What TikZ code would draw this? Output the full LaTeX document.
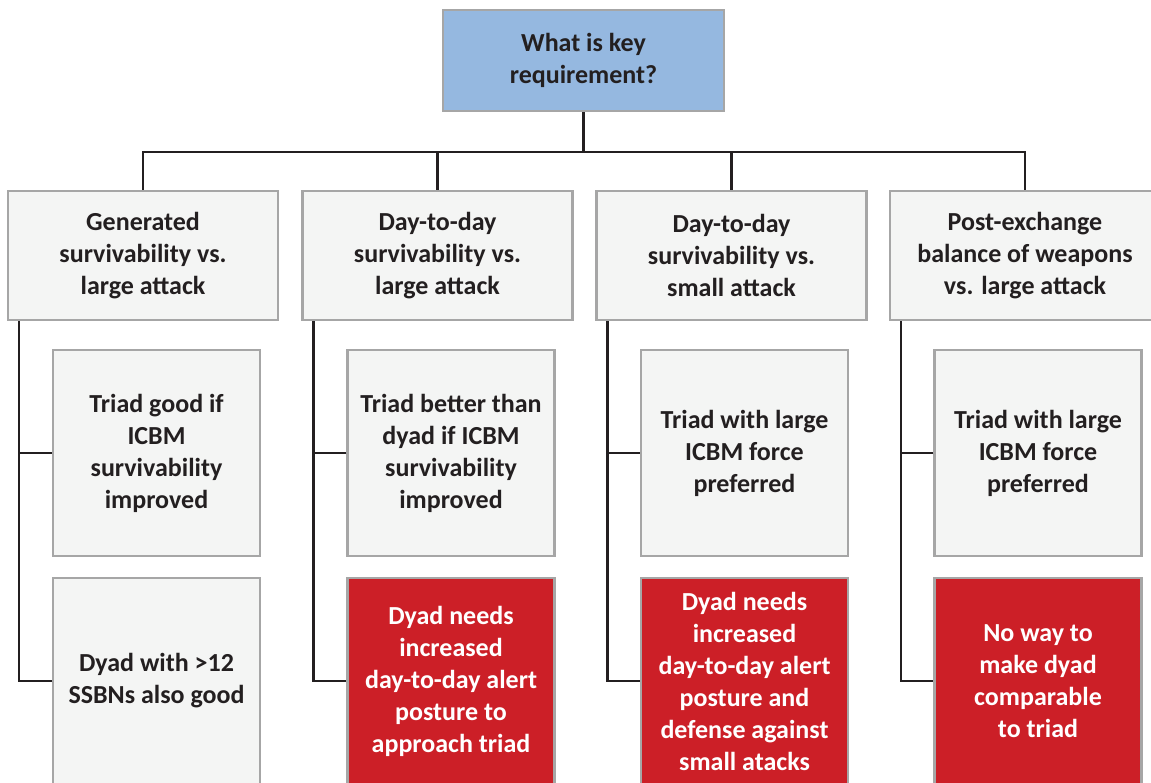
\documentclass[tikz,border=0pt]{standalone}
\usepackage{fontspec}
\setmainfont{Carlito}

\definecolor{keyblue}{HTML}{95B8E0}
\definecolor{boxgray}{HTML}{F4F5F4}
\definecolor{boxline}{HTML}{A6A6A6}
\definecolor{badred}{HTML}{CC1F27}
\definecolor{linkline}{HTML}{231F20}

\begin{document}
\begin{tikzpicture}[x=1pt, y=-1pt, line width=2.5pt,
	box/.style={draw=boxline, line width=2.5pt, fill=boxgray, align=center,
		text=linkline, inner sep=0pt,
		font=\fontsize{26}{32}\selectfont\bfseries},
	keybox/.style={box, fill=keyblue, minimum width=281pt, minimum height=101pt},
	needbox/.style={box, minimum width=270pt, minimum height=129pt},
	optbox/.style={box, minimum width=207pt, minimum height=206pt},
	badbox/.style={optbox, fill=badred, text=white},
	link/.style={draw=linkline, line width=2.5pt}]

\useasboundingbox (0,0) rectangle (1151,782);
\clip (0,0) rectangle (1151,782);

\node[keybox] (key) at (583.5,60.5) {What is key\\requirement?};

\node[needbox] (gen)  at (143,255.5)  {Generated\\survivability vs.\\large attack};
\node[needbox] (dtdl) at (437.5,255.5) {Day-to-day\\survivability vs.\\large attack};
\node[needbox] (dtds) at (731.5,255.5) {Day-to-day\\survivability vs.\\small attack};
\node[needbox] (post) at (1025,255.5)  {Post-exchange\\balance of weapons\\vs. large attack};

\node[optbox] (genA)  at (156.5,453) {Triad good if\\ICBM\\survivability\\improved};
\node[optbox] (dtdlA) at (451,453)   {Triad better than\\dyad if ICBM\\survivability\\improved};
\node[optbox] (dtdsA) at (744.5,453) {Triad with large\\ICBM force\\preferred};
\node[optbox] (postA) at (1038,453)  {Triad with large\\ICBM force\\preferred};

\node[optbox] (genB)  at (156.5,681) {Dyad with >12\\SSBNs also good};
\node[badbox] (dtdlB) at (451,681)   {Dyad needs\\increased\\day-to-day alert\\posture to\\approach triad};
\node[badbox] (dtdsB) at (744.5,681) {Dyad needs\\increased\\day-to-day alert\\posture and\\defense against\\small atacks};
\node[badbox] (postB) at (1038,681)  {No way to\\make dyad\\comparable\\to triad};

\coordinate (bus) at (583.5,152);

\draw[link] (key.south) -- (bus);
\draw[link] (gen.north) -- (gen.north |- bus) -- (post.north |- bus) -- (post.north);
\draw[link] (dtdl.north) -- (dtdl.north |- bus);
\draw[link] (dtds.north) -- (dtds.north |- bus);

\draw[link] ([xshift=12pt]gen.south west) coordinate (genS) |- (genB.west);
\draw[link] (genA.west) -- (genS |- genA.west);
\draw[link] ([xshift=12pt]dtdl.south west) coordinate (dtdlS) |- (dtdlB.west);
\draw[link] (dtdlA.west) -- (dtdlS |- dtdlA.west);
\draw[link] ([xshift=12pt]dtds.south west) coordinate (dtdsS) |- (dtdsB.west);
\draw[link] (dtdsA.west) -- (dtdsS |- dtdsA.west);
\draw[link] ([xshift=12pt]post.south west) coordinate (postS) |- (postB.west);
\draw[link] (postA.west) -- (postS |- postA.west);

\end{tikzpicture}
\end{document}
